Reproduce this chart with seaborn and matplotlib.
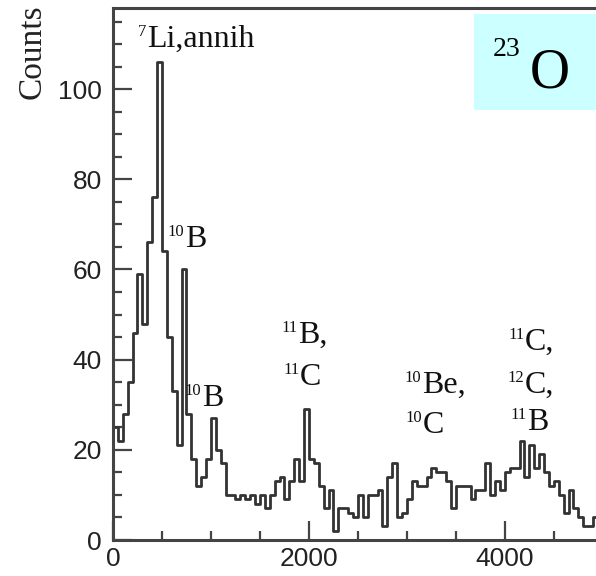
import numpy as np
import pandas as pd
import matplotlib
matplotlib.use("Agg")
import matplotlib.pyplot as plt
import seaborn as sns

# Gamma-ray energy spectrum (keV), 50 keV bins starting at 0
bin_width = 50
counts = [
    25, 22, 28, 35, 46, 59, 48, 66, 76, 106,
    64, 45, 33, 21, 60, 28, 18, 12, 14, 18,
    27, 20, 17, 10, 10, 9, 10, 9, 10, 8,
    10, 7, 10, 13, 14, 9, 13, 18, 13, 29,
    18, 17, 12, 7, 11, 2, 7, 7, 6, 5,
    10, 5, 10, 10, 11, 3, 14, 17, 5, 6,
    9, 13, 12, 12, 14, 16, 15, 15, 13, 7,
    12, 12, 12, 9, 11, 11, 17, 10, 13, 11,
    15, 16, 16, 22, 14, 21, 16, 19, 15, 12,
    13, 10, 6, 11, 7, 5, 3, 3, 5,
]
x_ticks = [0, 2000, 4000]
y_ticks = [0, 20, 40, 60, 80, 100]

n_bins = len(counts)
centers = (np.arange(n_bins) + 0.5) * bin_width
df = pd.DataFrame({"energy": centers, "counts": counts})

sns.set_style("ticks")
plt.rcParams["font.family"] = ["Liberation Sans", "DejaVu Sans"]

W, H = 596, 576
fig = plt.figure(figsize=(W / 100, H / 100), dpi=100)
ax = fig.add_axes([113 / W, 36 / H, (W - 113) / W, (540 - 8) / H])

sns.histplot(data=df, x="energy", weights="counts", binwidth=bin_width,
             binrange=(0, n_bins * bin_width), element="step", fill=False,
             color="#333333", linewidth=2.0, ax=ax)

ax.set_xlim(0, 4930)
ax.set_ylim(0, 118)
ax.set_xticks(x_ticks)
ax.set_yticks(y_ticks)
ax.set_xticks(np.arange(0, 5000, 500), minor=True)
ax.set_yticks(np.arange(0, 120, 5), minor=True)
ax.tick_params(which="both", direction="in", color="#444444", width=1.6,
               labelsize=19, labelcolor="#222222")
ax.tick_params(which="major", length=14)
ax.tick_params(which="minor", length=6.5)
ax.tick_params(axis="x", pad=5)
ax.tick_params(axis="y", pad=8)
ax.set_xlabel("")
ax.set_ylabel("")
for side in ("left", "bottom", "top"):
    ax.spines[side].set_color("#444444")
    ax.spines[side].set_linewidth(2.2)
ax.spines["right"].set_visible(False)

fig.text(32 / W, 1 - 4 / H, "Counts", rotation=90, va="top", ha="center",
         family="Liberation Serif", fontsize=24, color="#222222")

serif = "Liberation Serif"


def iso_label(x, y, mass, name, size=23, sup_size=12):
    main = ax.text(x, y, name, ha="left", va="baseline", family=serif,
                   fontsize=size, color="#111111")
    ax.annotate(mass, xy=(0, 1), xycoords=main, xytext=(-0.5, 1),
                textcoords="offset points", ha="right", va="top",
                family=serif, fontsize=sup_size, color="#111111")


iso_label(347, 109.3, "7", "Li,annih")
iso_label(735, 65.0, "10", "B")
iso_label(908, 29.7, "10", "B")
iso_label(1888, 43.7, "11", "B,")
iso_label(1908, 34.4, "11", "C")
iso_label(3153, 32.6, "10", "Be,")
iso_label(3163, 23.7, "10", "C")
iso_label(4204, 42.1, "11", "C,")
iso_label(4204, 32.6, "12", "C,")
iso_label(4224, 24.4, "11", "B")

# Nucleus tag in the upper right corner
fig.patches.append(plt.Rectangle((474 / W, 1 - 110 / H), (W - 474) / W, 96 / H,
                                 transform=fig.transFigure, facecolor="#ccffff",
                                 edgecolor="none", zorder=5))
fig.text(530 / W, 1 - 87 / H, "O", ha="left", va="baseline",
         family=serif, fontsize=40, color="#000000", zorder=6)
fig.text(493 / W, 1 - 37 / H, "23", ha="left", va="top",
         family=serif, fontsize=20, color="#000000", zorder=6)

fig.savefig("out.png", dpi=100)
